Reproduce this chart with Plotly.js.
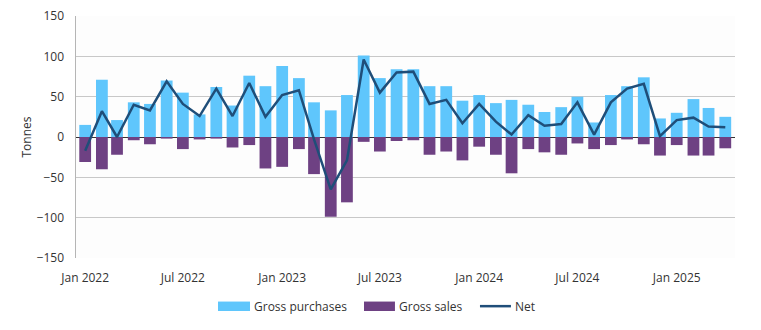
<!DOCTYPE html>
<html>
<head>
<meta charset="utf-8">
<script src="https://cdn.plot.ly/plotly-3.0.1.min.js"></script>
<style>
html,body{margin:0;padding:0;background:#fff;}
#chart{width:761px;height:330px;}
</style>
</head>
<body>
<div id="chart"></div>
<script>
const months = [
  '2022-01-01','2022-02-01','2022-03-01','2022-04-01','2022-05-01','2022-06-01',
  '2022-07-01','2022-08-01','2022-09-01','2022-10-01','2022-11-01','2022-12-01',
  '2023-01-01','2023-02-01','2023-03-01','2023-04-01','2023-05-01','2023-06-01',
  '2023-07-01','2023-08-01','2023-09-01','2023-10-01','2023-11-01','2023-12-01',
  '2024-01-01','2024-02-01','2024-03-01','2024-04-01','2024-05-01','2024-06-01',
  '2024-07-01','2024-08-01','2024-09-01','2024-10-01','2024-11-01','2024-12-01',
  '2025-01-01','2025-02-01','2025-03-01','2025-04-01'
];
const grossPurchases = [
  15, 71, 21, 43, 41, 70, 55, 28, 62, 39, 76, 63,
  88, 73, 43, 33, 52, 101, 73, 84, 84, 63, 63, 45,
  52, 42, 46, 40, 31, 37, 50, 18, 52, 63, 74, 23,
  30, 47, 36, 25
];
const grossSales = [
  -31, -40, -22, -4, -9, -2, -15, -3, -2, -13, -10, -39,
  -37, -15, -46, -99, -81, -6, -18, -5, -4, -22, -18, -29,
  -12, -22, -45, -15, -19, -22, -8, -15, -10, -3, -9, -23,
  -10, -23, -23, -14
];
const net = [
  -17, 32, 0, 40, 33, 69, 41, 26, 60, 26, 67, 25,
  52, 58, -3, -65, -29, 96, 55, 80, 81, 41, 46, 17,
  41, 19, 3, 27, 14, 16, 43, 3, 43, 60, 66, 1,
  21, 24, 13, 12
];
const seriesNames = ['Gross purchases', 'Gross sales', 'Net'];
const yTicks = [-150, -100, -50, 0, 50, 100, 150];

const colPurch = '#5fc6fc', colSales = '#6e4183', colNet = '#1f4e79';
const font = {family: '"Open Sans", "Noto Sans", sans-serif', size: 12, color: '#333'};

const traces = [
  {type: 'bar', name: seriesNames[0], x: months, y: grossPurchases,
   marker: {color: colPurch, line: {width: 0}}},
  {type: 'bar', name: seriesNames[1], x: months, y: grossSales,
   marker: {color: colSales, line: {width: 0}}},
  {type: 'scatter', mode: 'lines', name: seriesNames[2], x: months, y: net,
   line: {color: colNet, width: 2.5}}
];

// custom legend (wide swatches as in the reference)
const legY0 = -0.180, legY1 = -0.219, legYc = -0.199;
const shapes = [
  {type: 'rect', xref: 'paper', yref: 'paper', x0: 0.2155, x1: 0.264, y0: legY0, y1: legY1,
   fillcolor: colPurch, line: {width: 0}},
  {type: 'rect', xref: 'paper', yref: 'paper', x0: 0.437, x1: 0.484, y0: legY0, y1: legY1,
   fillcolor: colSales, line: {width: 0}},
  {type: 'line', xref: 'paper', yref: 'paper', x0: 0.613, x1: 0.660, y0: legYc, y1: legYc,
   line: {color: colNet, width: 2.5}}
];
const legX = [0.267, 0.487, 0.663];
const annotations = seriesNames.map((n, i) => ({
  xref: 'paper', yref: 'paper', x: legX[i], y: legYc, xanchor: 'left', yanchor: 'middle',
  text: n, showarrow: false, font: {size: 12, color: '#333'}
}));

const layout = {
  width: 761, height: 330,
  margin: {l: 76, r: 26, t: 16, b: 72},
  paper_bgcolor: '#ffffff',
  plot_bgcolor: '#fdfdfd',
  font: font,
  barmode: 'relative',
  bargap: 0.22,
  showlegend: false,
  shapes: shapes,
  annotations: annotations,
  xaxis: {
    type: 'date',
    range: ['2021-12-15', '2025-04-19'],
    dtick: 'M6', tick0: '2022-01-01', tickformat: '%b %Y',
    showgrid: false, zeroline: false, showline: false,
    ticks: '', ticklabelstandoff: 11, tickfont: {size: 12, color: '#333'}
  },
  yaxis: {
    range: [-150, 150],
    tickvals: yTicks,
    showgrid: true, gridcolor: '#c8c8c8', gridwidth: 1.5,
    zeroline: true, zerolinecolor: '#333', zerolinewidth: 1,
    showline: true, linecolor: '#b5b5b5', linewidth: 1.5,
    ticks: '', ticklabelstandoff: 8, tickfont: {size: 12, color: '#333'},
    title: {text: 'Tonnes', font: {size: 12, color: '#333'}, standoff: 2}
  }
};

Plotly.newPlot('chart', traces, layout, {displayModeBar: false, staticPlot: true});
</script>
</body>
</html>
